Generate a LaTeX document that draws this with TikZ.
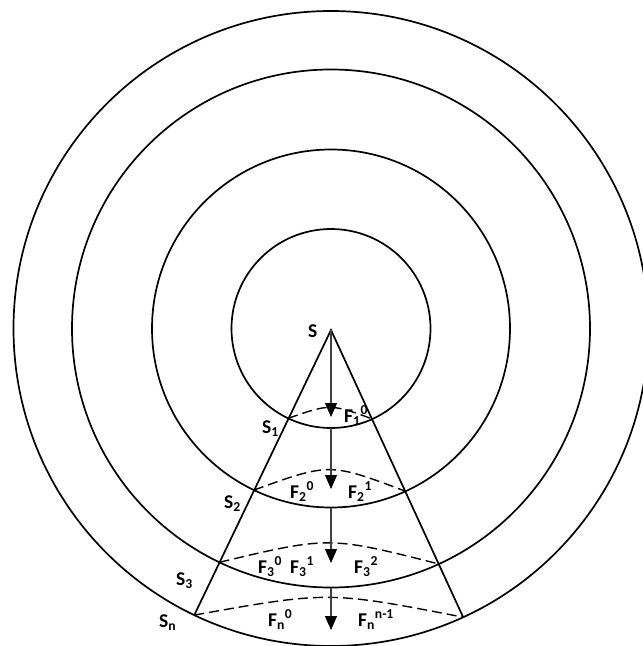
\documentclass[tikz,border=0pt]{standalone}
\usepackage{fontspec}
\setmainfont{Carlito}
\usetikzlibrary{arrows.meta,calc}
\begin{document}
\begin{tikzpicture}[x=1pt,y=-1pt,
  ring/.style={line width=1.7pt},
  cone/.style={line width=1.7pt},
  capline/.style={line width=1.4pt, dash pattern=on 10pt off 5pt},
  flow/.style={line width=1.1pt, draw=black!75, -{Triangle[width=12pt,length=14pt,fill=black,color=black]}},
  lbl/.style={inner sep=0pt, anchor=base west, font=\fontsize{19.5}{22}\selectfont\bfseries}]
\useasboundingbox (0,0) rectangle (643,646);
\clip (0,0) rectangle (643,646);
\coordinate (C) at (331,328.5);
\coordinate (apex) at (331,330);
% rings
\foreach \r in {99.5,179,259,317.5}{\draw[ring] (C) circle[radius=\r];}
% intersection points of the cone with the rings
\foreach \k/\r in {1/99.5,2/179,3/259,4/317.5}{
  \coordinate (L\k) at ($(C)+(115.5:\r)$);
  \coordinate (R\k) at ($(C)+(65.4:\r)$);
}
% cone
\draw[cone] (L4) -- (apex) -- (R4);
% dashed caps
\draw[capline] (L1) .. controls ($(L1)!0.5!(R1)+(0,-15)$) .. (R1);
\draw[capline] (L2) .. controls ($(L2)!0.5!(R2)+(0,-28)$) .. (R2);
\draw[capline] (L3) .. controls ($(L3)!0.5!(R3)+(0,-27)$) .. (R3);
\draw[capline] (L4) .. controls ($(L4)!0.5!(R4)+(0,-25)$) .. (R4);
% arrows
\coordinate (t1) at (331,417);
\coordinate (b1) at (331,428);
\coordinate (t2) at (331,489);
\coordinate (b2) at (331,507.5);
\coordinate (t3) at (331,563);
\coordinate (b3) at (331,587.5);
\coordinate (t4) at (331,630);
\draw[flow] (apex) -- (t1);
\draw[flow] (b1) -- (t2);
\draw[flow] (b2) -- (t3);
\draw[flow] (b3) -- (t4);
% labels
\node[lbl] (s0) at (308,337) {S};
\node[lbl] (s1) at (262,433) {S\textsubscript{1}};
\node[lbl] (s2) at (224,508) {S\textsubscript{2}};
\node[lbl] (s3) at (176,585) {S\textsubscript{3}};
\node[lbl] (sn) at (159,627) {S\textsubscript{n}};
\node[lbl] (f10) at (344,422) {F\textsubscript{1}\textsuperscript{0}};
\node[lbl] (f20) at (290,498) {F\textsubscript{2}\textsuperscript{0}};
\node[lbl] (f21) at (348,498) {F\textsubscript{2}\textsuperscript{1}};
\node[lbl] (f30) at (258,573) {F\textsubscript{3}\textsuperscript{0}};
\node[lbl] (f31) at (290,573) {F\textsubscript{3}\textsuperscript{1}};
\node[lbl] (f32) at (354,573) {F\textsubscript{3}\textsuperscript{2}};
\node[lbl] (fn0) at (268,626) {F\textsubscript{n}\textsuperscript{0}};
\node[lbl] (fnn) at (358,626) {F\textsubscript{n}\textsuperscript{n-1}};
\end{tikzpicture}
\end{document}
